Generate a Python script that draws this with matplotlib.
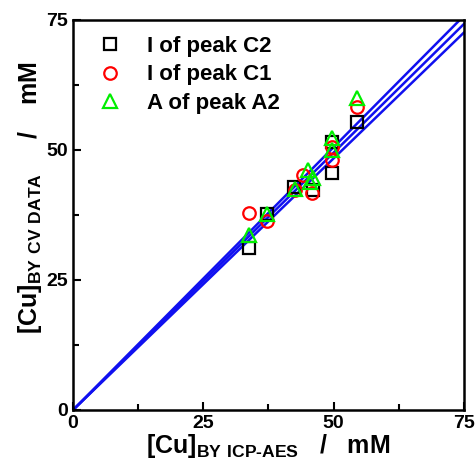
import numpy as np
import matplotlib.pyplot as plt
from matplotlib.ticker import MultipleLocator

plt.rcParams['font.family'] = ['Liberation Sans', 'DejaVu Sans']
plt.rcParams['font.weight'] = 'bold'
plt.rcParams['mathtext.fontset'] = 'custom'
plt.rcParams['mathtext.rm'] = 'Liberation Sans:bold'
plt.rcParams['mathtext.bf'] = 'Liberation Sans:bold'

# Datos
icp_c2 = [33.8, 37.2, 42.4, 46.1, 49.7, 49.7, 54.5]
cv_c2 = [31.2, 37.7, 42.8, 42.3, 45.6, 51.5, 55.4]

icp_c1 = [33.8, 37.2, 42.6, 44.1, 45.9, 49.7, 49.7, 54.5]
cv_c1 = [37.9, 36.3, 42.3, 45.2, 41.7, 48.1, 50.6, 58.3]

icp_a2 = [33.8, 37.2, 42.6, 45.1, 45.5, 46.0, 49.7, 49.7, 54.5]
cv_a2 = [33.7, 37.7, 42.5, 46.2, 43.8, 44.6, 50.0, 52.3, 60.0]

pendientes = [1.011, 0.99, 0.968]

fig = plt.figure(figsize=(4.77, 4.75), dpi=100)
ax = fig.add_axes([73/477, 65/475, 391/477, 390/475])

xx = np.array([0, 75])
for m in pendientes:
    ax.plot(xx, m * xx, color='#1010f0', lw=1.8, zorder=1)

ms = 8.5
ax.plot(icp_c2, cv_c2, 's', mfc='none', mec='black', mew=1.6, ms=ms, label='I of peak C2')
ax.plot(icp_c1, cv_c1, 'o', mfc='none', mec='red', mew=1.6, ms=ms + 0.5, label='I of peak C1')
ax.plot(icp_a2, cv_a2, '^', mfc='none', mec='#00ee00', mew=1.6, ms=ms + 1, label='A of peak A2')

ax.set_xlim(0, 75)
ax.set_ylim(0, 75)
ax.xaxis.set_major_locator(MultipleLocator(25))
ax.yaxis.set_major_locator(MultipleLocator(25))
ax.xaxis.set_minor_locator(MultipleLocator(12.5))
ax.yaxis.set_minor_locator(MultipleLocator(12.5))
ax.tick_params(which='both', direction='in', labelsize=14, width=1.5)
ax.tick_params(which='major', length=6)
ax.tick_params(which='minor', length=4)
ax.tick_params(top=False, right=False, which='both')
for s in ax.spines.values():
    s.set_linewidth(1.8)

ax.set_xlabel(r'[Cu]$_{\mathbf{BY\ ICP\text{-}AES}}$   /   mM', fontsize=18, fontweight='bold', labelpad=0)
ax.set_ylabel(r'[Cu]$_{\mathbf{BY\ CV\ DATA}}$     /    mM', fontsize=18, fontweight='bold')
ax.yaxis.set_label_coords(-0.075, 0.545)

ax.legend(loc='upper left', frameon=False, fontsize=16, handletextpad=1.1, handlelength=1.2,
          borderaxespad=0.3, labelspacing=0.35, bbox_to_anchor=(0.02, 1.0))

fig.savefig('out.png', dpi=100)
